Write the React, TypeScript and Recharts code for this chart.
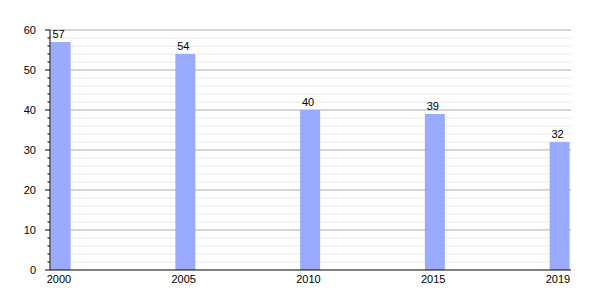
import React from "react";
import {
  BarChart,
  Bar,
  XAxis,
  YAxis,
  CartesianGrid,
  LabelList,
} from "recharts";

const years = ["2000", "2005", "2010", "2015", "2019"];
const values = [57, 54, 40, 39, 32];
const majorTicks = [0, 10, 20, 30, 40, 50, 60];
const minorTicks = [2, 4, 6, 8, 12, 14, 16, 18, 22, 24, 26, 28, 32, 34, 36, 38, 42, 44, 46, 48, 52, 54, 56, 58];
const allTicks = [...majorTicks, ...minorTicks].sort((a, b) => a - b);

const data = years.map((year, i) => ({ idx: i, year, value: values[i] }));

const FONT = "'Liberation Sans', Arial, sans-serif";

const YTick = (props: any) => {
  const { x, y, payload } = props;
  const v = payload.value as number;
  const major = v % 10 === 0;
  return (
    <g>
      <line x1={x - (major ? 5 : 2.5)} x2={x} y1={y} y2={y} stroke="#000" strokeWidth={1} />
      {major && (
        <text x={x - 14} y={y} dy={4} textAnchor="end" fontSize={11} fontFamily={FONT} fill="#000">
          {v}
        </text>
      )}
    </g>
  );
};

export default function App() {
  return (
    <div style={{ position: "absolute", left: 0, top: 0, width: 600, height: 300, background: "#fff" }}>
      <BarChart
        width={600}
        height={300}
        data={data}
        margin={{ top: 30, right: 29, left: 0, bottom: 0 }}
      >
        <CartesianGrid vertical={false} horizontalValues={minorTicks} stroke="#e8e8e8" />
        <CartesianGrid vertical={false} horizontalValues={majorTicks.filter((t) => t > 0)} stroke="#ababab" />
        <XAxis
          dataKey="idx"
          type="number"
          domain={[0, 4]}
          ticks={[0, 1, 2, 3, 4]}
          padding={{ left: 11, right: 11 }}
          tickFormatter={(i: number) => years[i]}
          tickLine={false}
          tickSize={0}
          tickMargin={5}
          height={30}
          axisLine={{ stroke: "#000" }}
          tick={{ fontSize: 11, fill: "#000", fontFamily: FONT, dx: -2 }}
        />
        <YAxis
          type="number"
          domain={[0, 60]}
          ticks={allTicks}
          interval={0}
          width={50}
          tickLine={false}
          tickSize={0}
          tickMargin={0}
          axisLine={{ stroke: "#000" }}
          tick={<YTick />}
        />
        <Bar dataKey="value" fill="#99aaff" barSize={20} isAnimationActive={false}>
          <LabelList
            dataKey="value"
            position="top"
            offset={4}
            dx={-2}
            fontSize={11}
            fontFamily={FONT}
            fill="#000"
          />
        </Bar>
      </BarChart>
    </div>
  );
}
